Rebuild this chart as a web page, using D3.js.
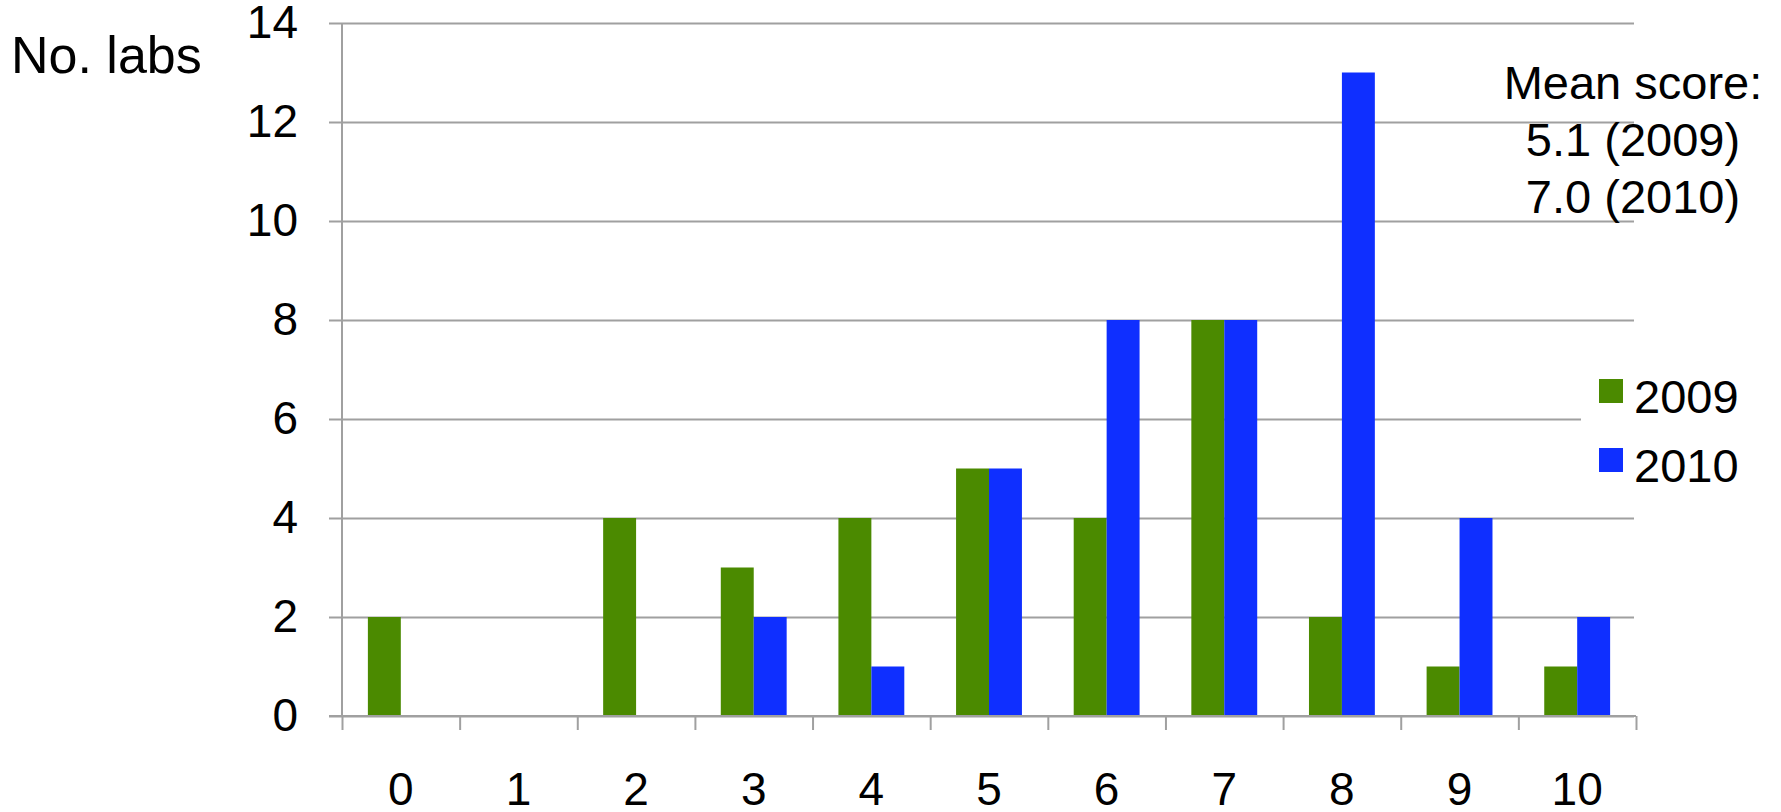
<!DOCTYPE html>
<html>
<head>
<meta charset="utf-8">
<script src="https://cdn.jsdelivr.net/npm/d3@7"></script>
<style>
  html, body { margin: 0; padding: 0; background: #ffffff; }
  svg { display: block; }
  text { font-family: "Liberation Sans", Arial, sans-serif; fill: #000; }
</style>
</head>
<body>
<svg id="chart" width="1781" height="812"></svg>
<script>
// Scores (x categories) and number of labs per score
const categories = ["0", "1", "2", "3", "4", "5", "6", "7", "8", "9", "10"];
const seriesNames = ["2009", "2010"];
const values2009 = [2, 0, 4, 3, 4, 5, 4, 8, 2, 1, 1];
const values2010 = [0, 0, 0, 2, 1, 5, 8, 8, 13, 4, 2];
const yTicks = [0, 2, 4, 6, 8, 10, 12, 14];
const meanLines = ["Mean score:", "5.1 (2009)", "7.0 (2010)"];
const colors = { "2009": "#4b8a00", "2010": "#0f2fff" };

(function () {
  const svg = d3.select("#chart");

  const plotLeft = 342, plotRight = 1636, plotTop = 23, plotBottom = 716;
  const gridLeft = 329, gridRight = 1634;

  const y = d3.scaleLinear().domain([0, 14]).range([plotBottom, plotTop]);
  const x = d3.scaleBand().domain(categories).range([plotLeft, plotRight]).paddingInner(0).paddingOuter(0);
  const bw = x.bandwidth();
  const x1 = d3.scaleBand().domain(seriesNames).range([bw * 0.22, bw * 0.78]).padding(0);

  // Horizontal gridlines with the value labels on the left
  const yAxis = d3.axisLeft(y)
    .tickValues(yTicks)
    .tickSize(gridRight - gridLeft)
    .tickPadding(31)
    .tickFormat(d3.format("d"));
  const gy = svg.append("g").attr("transform", `translate(${gridRight},0)`).call(yAxis);
  gy.select(".domain").remove();
  gy.selectAll(".tick line").attr("stroke", "#a0a0a0").attr("stroke-width", 2);
  gy.selectAll(".tick text")
    .style("font-size", "46px")
    .style("font-family", "'Liberation Sans', Arial, sans-serif")
    .attr("fill", "#000");

  // Vertical axis line
  svg.append("line")
    .attr("x1", plotLeft).attr("x2", plotLeft)
    .attr("y1", y(14)).attr("y2", y(0))
    .attr("stroke", "#a0a0a0").attr("stroke-width", 2);

  // Bars
  const rows = categories.map((c, i) => ({ cat: c, "2009": values2009[i], "2010": values2010[i] }));
  const groups = svg.append("g").selectAll("g").data(rows).join("g")
    .attr("transform", d => `translate(${x(d.cat)},0)`);
  groups.selectAll("rect")
    .data(d => seriesNames.map(s => ({ s, v: d[s] })).filter(e => e.v > 0))
    .join("rect")
    .attr("x", d => x1(d.s))
    .attr("width", x1.bandwidth())
    .attr("y", d => y(d.v))
    .attr("height", d => y(0) - y(d.v))
    .attr("fill", d => colors[d.s]);

  // Category axis: tick marks at band boundaries
  const xb = d3.scaleLinear().domain([0, categories.length]).range([plotLeft, plotRight]);
  const gxTicks = svg.append("g").attr("transform", `translate(0,${plotBottom})`)
    .call(d3.axisBottom(xb).tickValues(d3.range(categories.length + 1)).tickSize(14).tickFormat(""));
  gxTicks.select(".domain").remove();
  gxTicks.selectAll(".tick line").attr("stroke", "#a0a0a0").attr("stroke-width", 2);

  svg.append("line")
    .attr("x1", gridLeft).attr("x2", plotRight)
    .attr("y1", plotBottom).attr("y2", plotBottom)
    .attr("stroke", "#a0a0a0").attr("stroke-width", 2);

  // Category labels
  const gx = svg.append("g").attr("transform", `translate(0,${plotBottom})`)
    .call(d3.axisBottom(x).tickSize(0).tickPadding(56));
  gx.select(".domain").remove();
  gx.selectAll(".tick text")
    .style("font-size", "46px")
    .style("font-family", "'Liberation Sans', Arial, sans-serif")
    .attr("fill", "#000");

  // Axis title
  svg.append("text")
    .attr("x", 11).attr("y", 73)
    .style("font-size", "52px")
    .text("No. labs");

  // Mean score note
  svg.append("g").selectAll("text").data(meanLines).join("text")
    .attr("x", 1633)
    .attr("y", (d, i) => 99 + i * 57)
    .attr("text-anchor", "middle")
    .style("font-size", "47px")
    .text(d => d);

  // Legend
  const legend = svg.append("g");
  legend.append("rect")
    .attr("x", 1581).attr("y", 355).attr("width", 200).attr("height", 140)
    .attr("fill", "#ffffff");
  const li = legend.selectAll("g.item").data(seriesNames).join("g")
    .attr("class", "item")
    .attr("transform", (d, i) => `translate(1599,${379 + i * 69})`);
  li.append("rect")
    .attr("width", 24).attr("height", 24)
    .attr("fill", d => colors[d]);
  li.append("text")
    .attr("x", 35).attr("y", 34)
    .style("font-size", "47px")
    .text(d => d);
})();
</script>
</body>
</html>
